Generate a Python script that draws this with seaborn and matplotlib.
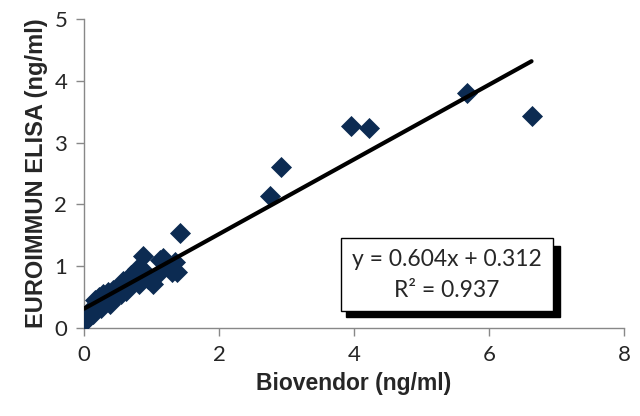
import matplotlib
matplotlib.use("Agg")
import matplotlib.pyplot as plt
import seaborn as sns
import numpy as np
import pandas as pd
from matplotlib.patches import Rectangle

# Data
biovendor = [0.0, 0.02, 0.05, 0.08, 0.10, 0.13, 0.16, 0.20, 0.22, 0.25, 0.28, 0.32,
             0.35, 0.39, 0.43, 0.46, 0.50, 0.55, 0.58, 0.62, 0.65, 0.70, 0.74, 0.78,
             0.82, 0.87, 0.90, 0.95, 1.02, 1.08, 1.13, 1.17, 1.25, 1.30, 1.35, 1.38,
             1.42, 2.76, 2.92, 3.96, 4.22, 5.68, 6.63]
euroimmun = [0.10, 0.18, 0.15, 0.25, 0.30, 0.22, 0.45, 0.38, 0.50, 0.33, 0.55, 0.45,
             0.58, 0.39, 0.61, 0.50, 0.65, 0.55, 0.76, 0.60, 0.70, 0.85, 0.78, 0.95,
             0.72, 1.16, 0.90, 0.80, 0.71, 0.85, 1.10, 1.13, 0.98, 0.90, 1.07, 0.91,
             1.53, 2.14, 2.60, 3.27, 3.24, 3.81, 3.43]
slope = 0.604
intercept = 0.312
r2 = 0.937
x_ticks = [0, 2, 4, 6, 8]
y_ticks = [0, 1, 2, 3, 4, 5]

df = pd.DataFrame({"Biovendor": biovendor, "EUROIMMUN": euroimmun})

sns.set_style("white")
plt.rcParams['font.family'] = ['Lato', 'DejaVu Sans']

fig = plt.figure(figsize=(6.4, 4.16), dpi=100)
ax = fig.add_axes([84/640, 88/416, 540/640, 309/416])

sns.scatterplot(data=df, x="Biovendor", y="EUROIMMUN", marker="D", s=115,
                color="#0c2b52", edgecolor="#0c2b52", linewidth=0, ax=ax, zorder=3)

xl = np.array([min(biovendor), max(biovendor)])
sns.lineplot(x=xl, y=slope * xl + intercept, color="black", linewidth=3, ax=ax, zorder=4)

ax.set_xlim(0, 8)
ax.set_ylim(0, 5)
ax.set_xticks(x_ticks)
ax.set_yticks(y_ticks)
ax.set_xticklabels([str(t) for t in x_ticks], fontsize=16)
ax.set_yticklabels([str(t) for t in y_ticks], fontsize=16)
ax.tick_params(axis="both", direction="out", length=6, width=1, color="#888888",
               bottom=True, left=True, pad=6)
for s in ["top", "right"]:
    ax.spines[s].set_visible(False)
for s in ["left", "bottom"]:
    ax.spines[s].set_color("#888888")
    ax.spines[s].set_linewidth(1)

lab_font = ['Liberation Sans', 'DejaVu Sans']
ax.set_xlabel("Biovendor (ng/ml)", fontsize=16.5, fontweight="bold", labelpad=5,
              family=lab_font)
ax.set_ylabel("EUROIMMUN ELISA (ng/ml)", fontsize=17, fontweight="bold", labelpad=5,
              family=lab_font)

# Equation box with shadow
def px2data(px, py):
    return (px - 84) / 67.5, (328 - py) / 61.8

x0, y0 = px2data(341, 311)
x1, y1 = px2data(553, 238)
xs0, ys0 = px2data(346, 317)
ax.add_patch(Rectangle((xs0, ys0), x1 - x0 + 2 / 67.5, y1 - y0 - 2 / 61.8,
                       facecolor="black", edgecolor="black", zorder=5, clip_on=False))
ax.add_patch(Rectangle((x0, y0), x1 - x0, y1 - y0, facecolor="white",
                       edgecolor="black", linewidth=1, zorder=6, clip_on=False))
ax.text((x0 + x1) / 2, y0 + (y1 - y0) * 0.70, f"y = {slope:.3f}x + {intercept:.3f}",
        ha="center", va="center", fontsize=16.5, zorder=7)
ax.text((x0 + x1) / 2, y0 + (y1 - y0) * 0.28, f"R² = {r2:.3f}",
        ha="center", va="center", fontsize=16.5, zorder=7)

fig.savefig("out.png", dpi=100)
